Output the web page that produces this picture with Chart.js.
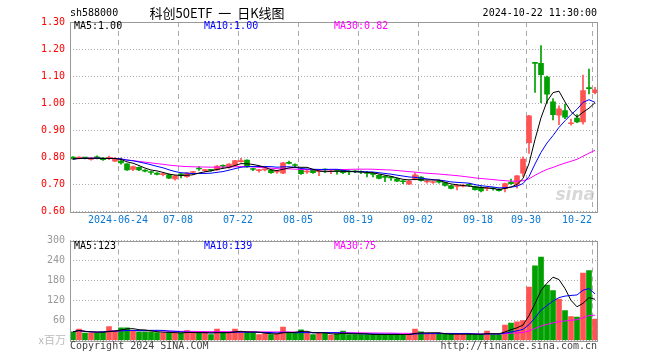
<!DOCTYPE html>
<html>
<head>
<meta charset="utf-8">
<script src="https://cdn.jsdelivr.net/npm/chart.js@4.4.1/dist/chart.umd.min.js"></script>
<style>
body { margin: 0; background: #fff; }
#wrap { position: relative; width: 660px; height: 360px; }
canvas { position: absolute; left: 0; top: 0; }
</style>
</head>
<body>
<div id="wrap">
<canvas id="kline" width="660" height="360"></canvas>
<canvas id="vol" width="660" height="360"></canvas>
</div>
<script>
// trading days shown
var dates = [
  '2024-06-12','2024-06-13','2024-06-14','2024-06-17','2024-06-18','2024-06-19','2024-06-20','2024-06-21','2024-06-24','2024-06-25','2024-06-26','2024-06-27','2024-06-28',
  '2024-07-01','2024-07-02','2024-07-03','2024-07-04','2024-07-05','2024-07-08','2024-07-09','2024-07-10','2024-07-11','2024-07-12','2024-07-15','2024-07-16','2024-07-17','2024-07-18','2024-07-19','2024-07-22','2024-07-23','2024-07-24','2024-07-25','2024-07-26','2024-07-29','2024-07-30','2024-07-31',
  '2024-08-01','2024-08-02','2024-08-05','2024-08-06','2024-08-07','2024-08-08','2024-08-09','2024-08-12','2024-08-13','2024-08-14','2024-08-15','2024-08-16','2024-08-19','2024-08-20','2024-08-21','2024-08-22','2024-08-23','2024-08-26','2024-08-27','2024-08-28','2024-08-29','2024-08-30',
  '2024-09-02','2024-09-03','2024-09-04','2024-09-05','2024-09-06','2024-09-09','2024-09-10','2024-09-11','2024-09-12','2024-09-13','2024-09-18','2024-09-19','2024-09-20','2024-09-23','2024-09-24','2024-09-25','2024-09-26','2024-09-27','2024-09-30',
  '2024-10-08','2024-10-09','2024-10-10','2024-10-11','2024-10-14','2024-10-15','2024-10-16','2024-10-17','2024-10-18','2024-10-21','2024-10-22'
];

var openP = [
  .801,.797,.798,.792,.799,.797,.796,.786,.786,.776,.755,.763,.752,
  .746,.742,.736,.736,.720,.737,.729,.744,.759,.751,.754,.754,.769,.763,.770,.784,.790,.757,.751,.754,.753,.746,.742,
  .780,.772,.757,.746,.752,.747,.756,.747,.751,.752,.748,.749,.747,.743,.739,.734,.728,.726,.721,.712,.701,.719,
  .727,.709,.707,.710,.707,.696,.693,.694,.699,.692,.689,.684,.686,.683,.684,.709,.700,.742,.854,
  1.148,1.147,1.097,1.005,.956,.973,.924,.945,.931,1.057,1.039
];
var highP = [
  .803,.802,.800,.799,.806,.799,.805,.799,.797,.777,.768,.765,.755,
  .749,.744,.741,.738,.734,.741,.744,.748,.766,.756,.756,.770,.772,.777,.789,.796,.791,.760,.756,.758,.755,.751,.782,
  .786,.776,.758,.752,.753,.753,.758,.753,.756,.753,.750,.751,.750,.748,.742,.735,.732,.730,.723,.714,.714,.742,
  .729,.714,.711,.716,.709,.697,.700,.699,.703,.694,.692,.690,.689,.685,.705,.720,.734,.802,.955,
  1.148,1.213,1.100,1.017,.990,.997,.941,.958,1.104,1.126,1.059
];
var lowP = [
  .792,.794,.794,.790,.794,.789,.791,.784,.775,.752,.751,.751,.746,
  .737,.735,.731,.721,.716,.724,.726,.738,.752,.747,.749,.752,.760,.760,.768,.782,.763,.751,.745,.750,.741,.741,.740,
  .776,.766,.737,.741,.741,.732,.744,.740,.738,.740,.736,.743,.740,.728,.728,.720,.710,.715,.710,.703,.699,.717,
  .712,.705,.704,.705,.694,.683,.680,.691,.694,.679,.672,.677,.679,.675,.672,.700,.686,.730,.815,
  1.040,1.002,1.000,.938,.921,.943,.919,.928,.923,1.034,1.034
];
var closeP = [
  .794,.798,.797,.797,.798,.791,.797,.796,.779,.754,.766,.754,.749,
  .744,.737,.738,.723,.732,.735,.742,.746,.757,.753,.752,.768,.767,.775,.788,.786,.765,.755,.753,.756,.743,.748,.780,
  .778,.770,.740,.748,.743,.749,.753,.749,.749,.743,.746,.747,.745,.741,.737,.722,.726,.724,.712,.710,.712,.735,
  .715,.711,.709,.708,.696,.685,.695,.696,.697,.681,.676,.686,.684,.677,.703,.703,.732,.794,.953,
  1.147,1.105,1.033,.958,.979,.948,.928,.931,1.047,1.054,1.049
];
// volume, millions
var volume = [
  26,34,22,22,22,26,42,30,38,38,30,26,26,
  26,24,22,24,22,22,30,22,22,22,18,34,22,22,34,26,24,22,18,20,18,20,40,
  22,22,32,22,18,22,22,16,20,28,18,18,18,18,18,18,18,18,18,18,18,34,
  26,19,19,19,19,19,19,19,19,18,18,28,18,18,46,52,56,60,160,
  224,250,166,150,124,90,72,70,202,210,64
];

var tickDates = ['2024-06-24','2024-07-08','2024-07-22','2024-08-05','2024-08-19','2024-09-02','2024-09-18','2024-09-30','2024-10-22'];
var priceTicks = [0.6, 1.3, 0.1];
var volTicks = [0, 300, 60];

var N = dates.length;
var tickIdx = tickDates.map(function(d){ return dates.indexOf(d); });

var RED = '#ff5353';
var GREEN = '#00a000';

function movingAvg(src, n){
    var out = [];
    for(var i = 0; i < src.length; i++){
        var from = Math.max(0, i - n + 1);
        var sum = 0;
        for(var j = from; j <= i; j++) sum += src[j];
        out.push(sum / (i - from + 1));
    }
    return out;
}

function trunc(v, digits){
    var f = Math.pow(10, digits);
    return (Math.floor(v * f + 1e-9) / f).toFixed(digits);
}

function pts(arr){
    return arr.map(function(v, i){ return {x: i + 0.5, y: v}; });
}

var colors = closeP.map(function(c, i){ return c > openP[i] ? RED : GREEN; });

var ma5 = movingAvg(closeP, 5), ma10 = movingAvg(closeP, 10), ma30 = movingAvg(closeP, 30);
var vma5 = movingAvg(volume, 5), vma10 = movingAvg(volume, 10), vma30 = movingAvg(volume, 30);

var bodyPts = closeP.map(function(c, i){ return {x: i + 0.5, y: [openP[i], c]}; });
var wickPts = closeP.map(function(c, i){ return {x: i + 0.5, y: [lowP[i], highP[i]]}; });

var MONO = 'DejaVu Sans Mono';

// border box and loose texts
var frame = {
    id: 'frame',
    afterDraw: function(chart, args, opts){
        var ctx = chart.ctx, a = chart.chartArea;
        ctx.save();
        ctx.strokeStyle = '#999';
        ctx.lineWidth = 1;
        ctx.strokeRect(Math.round(a.left) + 0.5, Math.round(a.top) + 0.5,
            Math.round(a.right) - Math.round(a.left) - 1, Math.round(a.bottom) - Math.round(a.top));
        (opts.texts || []).forEach(function(t){
            ctx.fillStyle = t.color;
            ctx.font = t.font;
            ctx.textAlign = t.align || 'left';
            ctx.textBaseline = 'middle';
            ctx.fillText(t.text, t.x, t.y);
        });
        ctx.restore();
    }
};

function lineSet(data, color){
    return {type: 'line', data: pts(data), borderColor: color, borderWidth: 1,
        pointRadius: 0, tension: 0, order: 0};
}

function xScale(showLabels, height){
    return {
        type: 'linear', min: 0, max: N, offset: false,
        afterBuildTicks: function(s){ s.ticks = tickIdx.map(function(v){ return {value: v}; }); },
        afterFit: function(s){ s.height = height; },
        ticks: {
            display: showLabels, autoSkip: false, maxRotation: 0, padding: 3,
            color: '#0a78d2', font: {family: MONO, size: 10},
            callback: function(v){
                var d = dates[v];
                if(v === tickIdx[0]) return d;
                if(v === N - 1) return d.slice(5) + '\u00a0\u00a0\u00a0\u00a0\u00a0';
                return d.slice(5);
            }
        },
        grid: {color: '#aaa', offset: false, drawTicks: false},
        border: {display: false, dash: [5, 4]}
    };
}

function yScale(t, color, fmt){
    return {
        min: t[0], max: t[1],
        afterFit: function(s){ s.width = 70; },
        ticks: {stepSize: t[2], color: color, padding: 5, font: {family: MONO, size: 10}, callback: fmt},
        grid: {color: '#aaa', drawTicks: false},
        border: {display: false, dash: [1, 2]}
    };
}

var f10 = '10px "' + MONO + '"';

const klineChart = new Chart(document.getElementById('kline'), {
    type: 'bar',
    data: {
        datasets: [
            lineSet(ma5, '#000000'),
            lineSet(ma10, '#0000ff'),
            lineSet(ma30, '#ff00ff'),
            {data: wickPts, backgroundColor: colors, barThickness: 1, grouped: false, order: 2},
            {data: bodyPts, backgroundColor: colors, barThickness: 5, minBarLength: 1, grouped: false, order: 1}
        ]
    },
    options: {
        responsive: false,
        animation: false,
        layout: {padding: {top: 22, right: 62, bottom: 128.5, left: 0}},
        plugins: {
            legend: {display: false},
            tooltip: {enabled: false},
            frame: {texts: [
                {text: 'sh588000', x: 70, y: 13, color: '#000', font: f10},
                {text: '科创50ETF  一  日K线图', x: 217, y: 13, align: 'center', color: '#000', font: '13px "Noto Sans CJK SC"'},
                {text: '2024-10-22 11:30:00', x: 597, y: 13, align: 'right', color: '#000', font: f10},
                {text: 'MA5:' + trunc(ma5[N - 1], 2), x: 74, y: 26, color: '#000', font: f10},
                {text: 'MA10:' + trunc(ma10[N - 1], 2), x: 204, y: 26, color: '#0000ff', font: f10},
                {text: 'MA30:' + trunc(ma30[N - 1], 2), x: 334, y: 26, color: '#ff00ff', font: f10},
                {text: 'sina', x: 595, y: 196, align: 'right', color: 'rgba(190,190,190,0.6)', font: 'italic bold 17px "DejaVu Sans"'}
            ]}
        },
        scales: {
            x: xScale(true, 20),
            y: yScale(priceTicks, '#ff0000', function(v){ return v.toFixed(2); })
        }
    },
    plugins: [frame]
});

const volChart = new Chart(document.getElementById('vol'), {
    type: 'bar',
    data: {
        datasets: [
            lineSet(vma5, '#000000'),
            lineSet(vma10, '#0000ff'),
            lineSet(vma30, '#ff00ff'),
            {data: pts(volume), backgroundColor: colors, barThickness: 5, grouped: false, order: 1}
        ]
    },
    options: {
        responsive: false,
        animation: false,
        layout: {padding: {top: 240.5, right: 62, bottom: 19.5, left: 0}},
        plugins: {
            legend: {display: false},
            tooltip: {enabled: false},
            frame: {texts: [
                {text: 'MA5:' + trunc(vma5[N - 1], 0), x: 74, y: 246, color: '#000', font: f10},
                {text: 'MA10:' + trunc(vma10[N - 1], 0), x: 204, y: 246, color: '#0000ff', font: f10},
                {text: 'MA30:' + trunc(vma30[N - 1], 0), x: 334, y: 246, color: '#ff00ff', font: f10},
                {text: 'x百万', x: 66, y: 340, align: 'right', color: '#bbb', font: '11px "Noto Sans CJK SC"'},
                {text: 'Copyright 2024 SINA.COM', x: 70, y: 346, color: '#444', font: f10},
                {text: 'http://finance.sina.com.cn', x: 597, y: 346, align: 'right', color: '#444', font: f10}
            ]}
        },
        scales: {
            x: xScale(false, 0),
            y: yScale(volTicks, '#999', function(v){ return v === 0 ? '' : v; })
        }
    },
    plugins: [frame]
});
</script>
</body>
</html>
